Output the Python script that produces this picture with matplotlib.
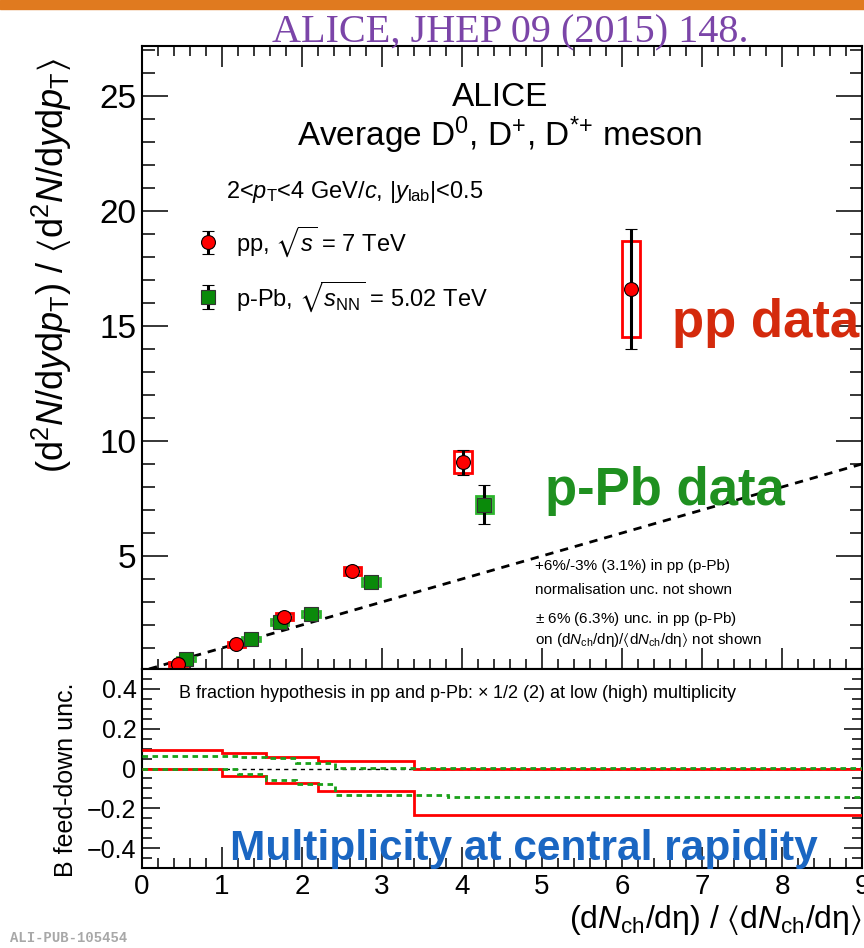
import numpy as np
import matplotlib
matplotlib.use("Agg")
import matplotlib.pyplot as plt
from matplotlib.patches import Rectangle
from matplotlib.ticker import MultipleLocator

plt.rcParams['font.family'] = ['Liberation Sans', 'DejaVu Sans']
plt.rcParams['mathtext.fontset'] = 'custom'
plt.rcParams['mathtext.rm'] = 'Liberation Sans'
plt.rcParams['mathtext.it'] = 'Liberation Sans:italic'
plt.rcParams['mathtext.bf'] = 'Liberation Sans:bold'
plt.rcParams['mathtext.fallback'] = 'stixsans'

# ---- data ----
pp_x = [0.45, 1.18, 1.78, 2.63, 4.01, 6.11]
pp_y = [0.30, 1.16, 2.36, 4.35, 9.08, 16.6]
pp_stat = [0.05, 0.08, 0.12, 0.15, 0.54, 2.6]
pp_sys = [0.08, 0.10, 0.15, 0.18, 0.49, 2.1]

ppb_x = [0.55, 1.36, 1.72, 2.11, 2.86, 4.28]
ppb_y = [0.51, 1.39, 2.14, 2.48, 3.88, 7.23]
ppb_stat = [0.03, 0.05, 0.08, 0.10, 0.20, 0.85]
ppb_sys = [0.08, 0.10, 0.14, 0.14, 0.18, 0.36]
sys_halfwidth = 0.11

# B feed-down uncertainty bands (step functions)
pp_edges = [0, 1.0, 1.55, 2.2, 3.4, 9]
pp_up = [0.093, 0.078, 0.06, 0.037, 0.0]
pp_lo = [0.0, -0.036, -0.073, -0.113, -0.232]

ppb_edges = [0, 1.2, 1.55, 1.93, 2.41, 3.83, 9]
ppb_up = [0.063, 0.057, 0.052, 0.030, 0.002, 0.002]
ppb_lo = [0.0, -0.027, -0.056, -0.079, -0.133, -0.142]

W, H = 864, 948
fig = plt.figure(figsize=(W / 100, H / 100), dpi=100)


def fx(px):
    return px / W


def fy(py):
    return 1 - py / H


# decorative banner + citation
fig.patches.append(Rectangle((0, fy(9)), 1, 9 / H, transform=fig.transFigure,
                             color='#e07a1f', zorder=0))
fig.text(fx(510), fy(42), 'ALICE, JHEP 09 (2015) 148.', ha='center', va='baseline',
         family='Liberation Serif', fontsize=29, color='#7b45a8')

ax = fig.add_axes([fx(142), fy(669), (862 - 142) / W, (669 - 46) / H])
axb = fig.add_axes([fx(142), fy(868), (862 - 142) / W, (868 - 669) / H], sharex=ax)

red = '#ff0000'
green = '#0a8a0a'

# systematic boxes
for x, y, s in zip(pp_x, pp_y, pp_sys):
    ax.add_patch(Rectangle((x - sys_halfwidth, y - s), 2 * sys_halfwidth, 2 * s,
                           fill=False, edgecolor=red, lw=2, zorder=3))
for x, y, s in zip(ppb_x, ppb_y, ppb_sys):
    ax.add_patch(Rectangle((x - sys_halfwidth, y - s), 2 * sys_halfwidth, 2 * s,
                           fill=False, edgecolor='#2db52d', lw=2, zorder=3))

ax.axline((0, 0), slope=1, color='black', ls=(0, (3, 2.5)), lw=2, zorder=2)

h_pp = ax.errorbar(pp_x, pp_y, yerr=pp_stat, fmt='o', color=red, mec='black', mew=0.8,
                   ms=10, ecolor='black', elinewidth=2.2, capsize=4, capthick=2.2, zorder=5)
h_ppb = ax.errorbar(ppb_x, ppb_y, yerr=ppb_stat, fmt='s', color=green, mec='#333333', mew=0.8,
                    ms=10, ecolor='black', elinewidth=2.2, capsize=4, capthick=2.2, zorder=4)

ax.set_xlim(0, 9)
ax.set_ylim(0.087, 27.17)
ax.yaxis.set_major_locator(MultipleLocator(5))
ax.yaxis.set_minor_locator(MultipleLocator(1))
ax.xaxis.set_major_locator(MultipleLocator(1))
ax.xaxis.set_minor_locator(MultipleLocator(0.2))
ax.tick_params(which='both', direction='in', top=True, right=True, labelbottom=False,
               width=1.1, labelsize=24, pad=4)
ax.tick_params(which='major', axis='y', length=19)
ax.tick_params(which='minor', axis='y', length=9)
ax.tick_params(which='major', axis='x', length=15)
ax.tick_params(which='minor', axis='x', length=7)
ax.set_yticks([5, 10, 15, 20, 25])
ax.set_yticklabels(['5', '10', '15', '20', '25'])
for sp in ax.spines.values():
    sp.set_linewidth(1.5)

leg = ax.legend([h_pp, h_ppb],
                [r'pp, $\sqrt{s}$ = 7 TeV', r'p-Pb, $\sqrt{s_{\mathrm{NN}}}$ = 5.02 TeV'],
                loc='upper left', bbox_to_anchor=(fx(196), fy(224)),
                bbox_transform=fig.transFigure, frameon=False, fontsize=17,
                handlelength=1.0, handletextpad=0.7, labelspacing=0.85, borderpad=0,
                borderaxespad=0)

fig.text(fx(500), fy(106), 'ALICE', ha='center', va='baseline', fontsize=24)
fig.text(fx(500), fy(146), r'Average D$^{0}$, D$^{+}$, D$^{{*}{+}}$ meson',
         ha='center', va='baseline', fontsize=24)
fig.text(fx(226), fy(198), r'2<$p_{\mathrm{T}}$<4 GeV/$c$, |$y_{\mathrm{lab}}$|<0.5',
         ha='left', va='baseline', fontsize=17)

fig.text(fx(672), fy(337), 'pp data', ha='left', va='baseline', fontsize=38,
         fontweight='bold', color='#d42a0c')
fig.text(fx(545), fy(505), 'p-Pb data', ha='left', va='baseline', fontsize=38,
         fontweight='bold', color='#1f9020')

small = [('+6%/-3% (3.1%) in pp (p-Pb)', 570),
         ('normalisation unc. not shown', 594),
         (r'$\pm$ 6% (6.3%) unc. in pp (p-Pb)', 623),
         (r'on (d$N_{\mathrm{ch}}$/d$\mathrm{\eta}$)/$\langle$d$N_{\mathrm{ch}}$/d$\mathrm{\eta}\rangle$ not shown', 644)]
for s, py in small:
    fig.text(fx(535), fy(py), s, ha='left', va='baseline', fontsize=11)

ax.set_ylabel(r'(d$^{2}N$/d$y$d$p_{\mathrm{T}}$) / $\langle$d$^{2}N$/d$y$d$p_{\mathrm{T}}\rangle$',
              fontsize=26)
ax.yaxis.set_label_coords(fx(74), fy(265), transform=fig.transFigure)

# ---- lower panel ----
axb.axhline(0, color='black', ls=(0, (3, 3)), lw=1, zorder=1)
axb.stairs(pp_up, pp_edges, baseline=None, color=red, lw=2, zorder=3)
axb.stairs(pp_lo, pp_edges, baseline=None, color=red, lw=2, zorder=3)
axb.stairs(ppb_up, ppb_edges, baseline=None, color='#1aa01a', lw=2, ls=(0, (2, 1.6)), zorder=4)
axb.stairs(ppb_lo, ppb_edges, baseline=None, color='#1aa01a', lw=2, ls=(0, (2, 1.6)), zorder=4)

axb.set_ylim(-0.5, 0.5)
axb.yaxis.set_major_locator(MultipleLocator(0.2))
axb.yaxis.set_minor_locator(MultipleLocator(0.05))
axb.set_yticks([-0.4, -0.2, 0, 0.2, 0.4])
axb.set_yticklabels(['\u22120.4', '\u22120.2', '0', '0.2', '0.4'])
axb.tick_params(which='both', direction='in', right=True, top=False, width=1.1)
axb.tick_params(axis='y', which='major', length=13, labelsize=18, pad=4)
axb.tick_params(axis='y', which='minor', length=7)
axb.tick_params(axis='x', which='major', length=15, labelsize=20, pad=4)
axb.tick_params(axis='x', which='minor', length=7)
for sp in axb.spines.values():
    sp.set_linewidth(1.5)
axb.set_xticks(range(10))
axb.set_xticklabels([str(i) for i in range(10)])

fig.text(fx(178), fy(698), r'B fraction hypothesis in pp and p-Pb: $\times$ 1/2 (2) at low (high) multiplicity',
         ha='left', va='baseline', fontsize=13)
fig.text(fx(230), fy(860), 'Multiplicity at central rapidity', ha='left', va='baseline',
         fontsize=30.5, fontweight='bold', color='#1a66c2')

axb.set_ylabel('B feed-down unc.', fontsize=18)
axb.yaxis.set_label_coords(fx(78), fy(780), transform=fig.transFigure)

fig.text(fx(862), fy(928),
         r'(d$N_{\mathrm{ch}}$/d$\mathrm{\eta}$) / $\langle$d$N_{\mathrm{ch}}$/d$\mathrm{\eta}\rangle$',
         ha='right', va='baseline', fontsize=23)

fig.text(fx(10), fy(942), 'ALI-PUB-105454', ha='left', va='baseline', fontsize=10,
         family='Liberation Mono', fontweight='bold', color='#a8a8a8')

fig.savefig('out.png', dpi=100)
